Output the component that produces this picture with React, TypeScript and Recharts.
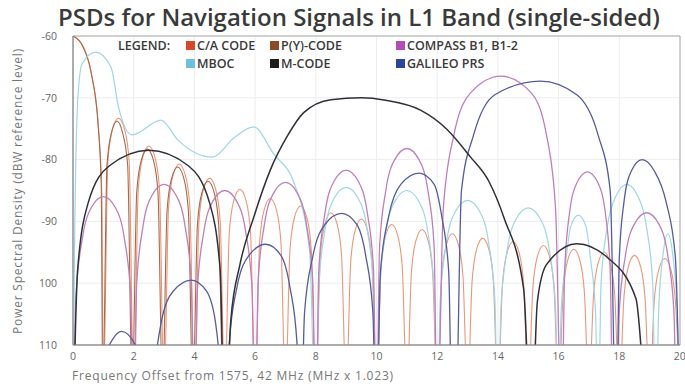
import React from 'react';
import { LineChart, Line, XAxis, YAxis, CartesianGrid, ReferenceArea } from 'recharts';

// [frequency offset (MHz x 1.023), PSD (dBW)], lobe by lobe
const caCode: number[][] = [
  [0, -60], [0.35, -61.8], [0.65, -67.2], [0.85, -75.4], [0.95, -85.6], [1, -118],
  [1.15, -80.3], [1.3, -75.1], [1.5, -73.3], [1.7, -75.1], [1.85, -80.3], [2, -118],
  [2.15, -84.8], [2.3, -79.6], [2.5, -77.8], [2.7, -79.6], [2.85, -84.8], [3, -118],
  [3.15, -87.7], [3.3, -82.5], [3.5, -80.7], [3.7, -82.5], [3.85, -87.7], [4, -118],
  [4.15, -90], [4.3, -84.8], [4.5, -83], [4.7, -84.8], [4.85, -90], [5, -118],
  [5.15, -91.8], [5.3, -86.6], [5.5, -84.8], [5.7, -86.6], [5.85, -91.8], [6, -118],
  [6.15, -93.3], [6.3, -88.1], [6.5, -86.3], [6.7, -88.1], [6.85, -93.3], [7, -118],
  [7.15, -94.5], [7.3, -89.3], [7.5, -87.5], [7.7, -89.3], [7.85, -94.5], [8, -118],
  [8.15, -95.6], [8.3, -90.4], [8.5, -88.6], [8.7, -90.4], [8.85, -95.6], [9, -118],
  [9.15, -96.6], [9.3, -91.4], [9.5, -89.6], [9.7, -91.4], [9.85, -96.6], [10, -118],
  [10.15, -97.5], [10.3, -92.3], [10.5, -90.5], [10.7, -92.3], [10.85, -97.5], [11, -118],
  [11.15, -98.3], [11.3, -93.1], [11.5, -91.3], [11.7, -93.1], [11.85, -98.3], [12, -118],
  [12.15, -99], [12.3, -93.8], [12.5, -92], [12.7, -93.8], [12.85, -99], [13, -118],
  [13.15, -99.7], [13.3, -94.5], [13.5, -92.7], [13.7, -94.5], [13.85, -99.7], [14, -118],
  [14.15, -100.3], [14.3, -95.1], [14.5, -93.3], [14.7, -95.1], [14.85, -100.3], [15, -118],
  [15.15, -100.9], [15.3, -95.7], [15.5, -93.9], [15.7, -95.7], [15.85, -100.9], [16, -118],
  [16.15, -101.5], [16.3, -96.3], [16.5, -94.5], [16.7, -96.3], [16.85, -101.5], [17, -118],
  [17.15, -102], [17.3, -96.8], [17.5, -95], [17.7, -96.8], [17.85, -102], [18, -118],
  [18.15, -102.5], [18.3, -97.3], [18.5, -95.5], [18.7, -97.3], [18.85, -102.5], [19, -118],
  [19.15, -103], [19.3, -97.8], [19.5, -96], [19.7, -97.8], [19.85, -103], [20, -118],
];

const pyCode: number[][] = [
  [0, -60], [0.3, -61.5], [0.6, -66], [0.82, -74], [0.93, -84], [0.98, -118],
  [1.12, -80.8], [1.27, -75.6], [1.45, -73.8], [1.63, -75.6], [1.8, -80.8], [1.95, -118],
  [2.1, -85.3], [2.25, -80.1], [2.45, -78.3], [2.65, -80.1], [2.8, -85.3], [2.95, -118],
  [3.1, -88.2], [3.25, -83], [3.45, -81.2], [3.65, -83], [3.8, -88.2], [3.95, -118],
  [4.1, -90.5], [4.25, -85.3], [4.45, -83.5], [4.65, -85.3], [4.8, -90.5], [4.95, -118],
  [20, -118],
];

const mboc: number[][] = [
  [0, -125], [0.05, -95], [0.16, -70], [0.3, -64.5], [0.75, -62.6], [1.25, -65],
  [1.5, -71.5], [1.95, -76], [2.9, -73.6], [3.45, -76.8], [4.6, -79.6], [5.3, -76.5],
  [5.95, -74.7], [6.6, -79], [7.3, -84], [7.8, -95], [8, -125],
  [8.1, -100.5], [8.3, -91.5], [8.6, -86.3], [9, -84.5], [9.4, -86.3], [9.7, -91.5], [9.9, -100.5], [10, -125],
  [10.1, -101], [10.3, -92], [10.6, -86.8], [11, -85], [11.4, -86.8], [11.7, -92], [11.9, -101], [12, -125],
  [12.1, -102.6], [12.3, -93.6], [12.6, -88.4], [13, -86.6], [13.4, -88.4], [13.7, -93.6], [13.9, -102.6], [14, -125],
  [14.1, -103.8], [14.3, -94.8], [14.6, -89.6], [15, -87.8], [15.4, -89.6], [15.7, -94.8], [15.9, -103.8], [16, -125],
  [16.08, -105], [16.25, -96], [16.4, -90.8], [16.65, -89], [16.9, -90.8], [17.05, -96], [17.22, -105], [17.3, -125],
  [17.4, -100], [17.6, -91], [17.9, -85.8], [18.25, -84], [18.6, -85.8], [18.9, -91], [19.1, -100], [19.2, -125],
  [19.3, -104], [19.45, -95], [19.6, -92], [19.75, -95], [19.9, -104], [20, -125],
];

const compass: number[][] = [
  [0, -125], [0.1, -102], [0.3, -93], [0.6, -87.8], [1, -86], [1.4, -87.8], [1.7, -93], [1.9, -102], [2, -125],
  [2.1, -100], [2.3, -91], [2.6, -85.8], [3, -84], [3.4, -85.8], [3.7, -91], [3.9, -100], [4, -125],
  [4.1, -101], [4.3, -92], [4.6, -86.8], [5, -85], [5.4, -86.8], [5.7, -92], [5.9, -101], [6, -125],
  [6.1, -99.7], [6.3, -90.7], [6.6, -85.5], [7, -83.7], [7.4, -85.5], [7.7, -90.7], [7.9, -99.7], [8, -125],
  [8.1, -97.7], [8.3, -88.7], [8.6, -83.5], [9, -81.7], [9.4, -83.5], [9.7, -88.7], [9.9, -97.7], [10, -125],
  [10.1, -94.2], [10.3, -85.2], [10.6, -80], [11, -78.2], [11.4, -80], [11.7, -85.2], [11.9, -94.2], [12, -125],
  [12.2, -88], [12.55, -76], [13.1, -69.2], [14.1, -66.5], [15.1, -69.2], [15.6, -76], [15.9, -88], [16.1, -125],
  [16.2, -98], [16.35, -89], [16.6, -83.8], [16.95, -82], [17.3, -83.8], [17.55, -89], [17.7, -98], [17.8, -125],
  [17.9, -125], [18, -104.6], [18.2, -95.6], [18.5, -90.4], [18.9, -88.6], [19.3, -90.4], [19.6, -95.6], [19.8, -104.6], [19.9, -125],
  [20, -125],
];

const galileoPrs: number[][] = [
  [0, -125], [0.9, -113], [1.6, -107.8], [2.3, -113], [2.5, -125],
  [2.65, -115.5], [2.9, -106.5], [3.3, -101.3], [3.9, -99.5], [4.4, -101.3], [4.7, -106.5], [4.88, -115.5], [5, -125],
  [5.15, -109.7], [5.4, -100.7], [5.8, -95.5], [6.35, -93.7], [6.85, -95.5], [7.15, -100.7], [7.38, -109.7], [7.5, -125],
  [7.63, -104.7], [7.9, -95.7], [8.3, -90.5], [8.85, -88.7], [9.35, -90.5], [9.65, -95.7], [9.88, -104.7], [10, -125],
  [10.13, -98.2], [10.4, -89.2], [10.8, -84], [11.4, -82.2], [11.9, -84], [12.15, -89.2], [12.38, -98.2], [12.5, -125],
  [12.6, -125], [12.8, -85], [13.2, -76], [13.9, -69.5], [15.4, -67.3], [16.6, -69.5], [17.3, -76], [17.7, -85], [17.9, -125],
  [18, -96], [18.15, -87], [18.4, -81.8], [18.75, -80], [19.15, -81.8], [19.55, -87], [19.85, -96], [20, -125],
];

const mCode: number[][] = [
  [0, -125], [0.15, -98], [0.5, -87], [1.2, -81], [2.5, -78.5], [3.8, -81], [4.5, -87], [4.85, -98], [5, -125],
  [5.2, -106], [5.5, -97], [5.95, -89.4], [6.5, -81.7], [7.05, -76.3], [7.6, -72.4],
  [8.5, -70.3], [9.5, -70], [10.3, -70.4], [11.45, -72], [12.3, -75], [13.1, -79.6],
  [13.7, -83.5], [14.2, -89.4], [14.85, -101], [15.1, -125],
  [15.3, -103], [15.6, -97], [16.6, -93.6], [17.6, -95.8], [18.55, -102.5], [19, -125],
  [20, -125],
];

const xTicks = [0, 2, 4, 6, 8, 10, 12, 14, 16, 18, 20];
const yTicks = [-110, -100, -90, -80, -70, -60];
const yTickLabels = ['110', '100', '-90', '-80', '-70', '-60'];

const legendItems = [
  { name: 'C/A CODE', color: '#d5482c', col: 0, row: 0 },
  { name: 'P(Y)-CODE', color: '#8c4a26', col: 1, row: 0 },
  { name: 'COMPASS B1, B1-2', color: '#b34db5', col: 2, row: 0 },
  { name: 'MBOC', color: '#6cc2dc', col: 0, row: 1 },
  { name: 'M-CODE', color: '#1c1c1c', col: 1, row: 1 },
  { name: 'GALILEO PRS', color: '#2c4696', col: 2, row: 1 },
];
const legendCols = [186, 270, 396];

const FONT = '"Open Sans", "Noto Sans", sans-serif';

const toPoints = (arr: number[][]) => arr.map(([x, y]) => ({ x, y }));

const series = [
  { key: 'ca', data: caCode, color: '#e9977a', width: 1.1 },
  { key: 'py', data: pyCode, color: '#a8694a', width: 1.1 },
  { key: 'mboc', data: mboc, color: '#9fd6e4', width: 1.2 },
  { key: 'compass', data: compass, color: '#bf7fbb', width: 1.3 },
  { key: 'prs', data: galileoPrs, color: '#545c9c', width: 1.3 },
  { key: 'mcode', data: mCode, color: '#2f2f3a', width: 1.5 },
];

const App: React.FC = () => {
  return (
    <div style={{ position: 'absolute', left: 0, top: 0, width: 685, height: 384, background: '#fff', fontFamily: FONT, overflow: 'hidden' }}>
      <LineChart width={685} height={384} margin={{ top: 36, right: 5, bottom: 0, left: 0 }}>
        <CartesianGrid stroke="#ededed" />
        <XAxis
          dataKey="x"
          type="number"
          domain={[0, 20]}
          ticks={xTicks}
          allowDataOverflow
          height={39}
          tickLine={false}
          tickSize={6}
          axisLine={{ stroke: '#888' }}
          tick={{ fontSize: 10.5, fill: '#666', fontFamily: FONT }}
        />
        <YAxis
          type="number"
          domain={[-110, -60]}
          ticks={yTicks}
          allowDataOverflow
          width={73}
          tickLine={false}
          tickSize={14}
          axisLine={{ stroke: '#888' }}
          tickFormatter={(v: number) => yTickLabels[yTicks.indexOf(v)]}
          tick={{ fontSize: 10.5, fill: '#666', fontFamily: FONT }}
        />
        <ReferenceArea x1={0} x2={20} y1={-110} y2={-60} fill="none" stroke="#aaa" strokeWidth={1} />
        {series.map((s) => (
          <Line
            key={s.key}
            data={toPoints(s.data)}
            dataKey="y"
            type="monotone"
            dot={false}
            stroke={s.color}
            strokeWidth={s.width}
            isAnimationActive={false}
          />
        ))}
      </LineChart>

      <div style={{ position: 'absolute', left: 58, top: 0, fontSize: 24, fontWeight: 600, color: '#3a3a3a', whiteSpace: 'nowrap' }}>
        PSDs for Navigation Signals in L1 Band (single-sided)
      </div>

      <div
        style={{
          position: 'absolute', left: 17, top: 191, fontSize: 12, letterSpacing: 0.8, color: '#777', whiteSpace: 'nowrap',
          transform: 'translate(-50%, -50%) rotate(-90deg)',
        }}
      >
        Power Spectral Density (dBW reference level)
      </div>

      <div style={{ position: 'absolute', left: 72, top: 367, fontSize: 12, letterSpacing: 0.8, color: '#777', whiteSpace: 'nowrap' }}>
        Frequency Offset from 1575, 42 MHz (MHz x 1.023)
      </div>

      <div style={{ position: 'absolute', left: 118, top: 38, fontSize: 12.5, lineHeight: '15px', fontWeight: 600, color: '#3a3a3a' }}>LEGEND:</div>
      {legendItems.map((it) => (
        <div
          key={it.name}
          style={{ position: 'absolute', left: legendCols[it.col], top: 38 + it.row * 18, height: 15, display: 'flex', alignItems: 'center', whiteSpace: 'nowrap' }}
        >
          <span style={{ width: 9, height: 9, background: it.color, display: 'inline-block', marginRight: 2 }} />
          <span style={{ fontSize: 12.5, lineHeight: '15px', fontWeight: 600, color: '#3a3a3a' }}>{it.name}</span>
        </div>
      ))}
    </div>
  );
};

export default App;
